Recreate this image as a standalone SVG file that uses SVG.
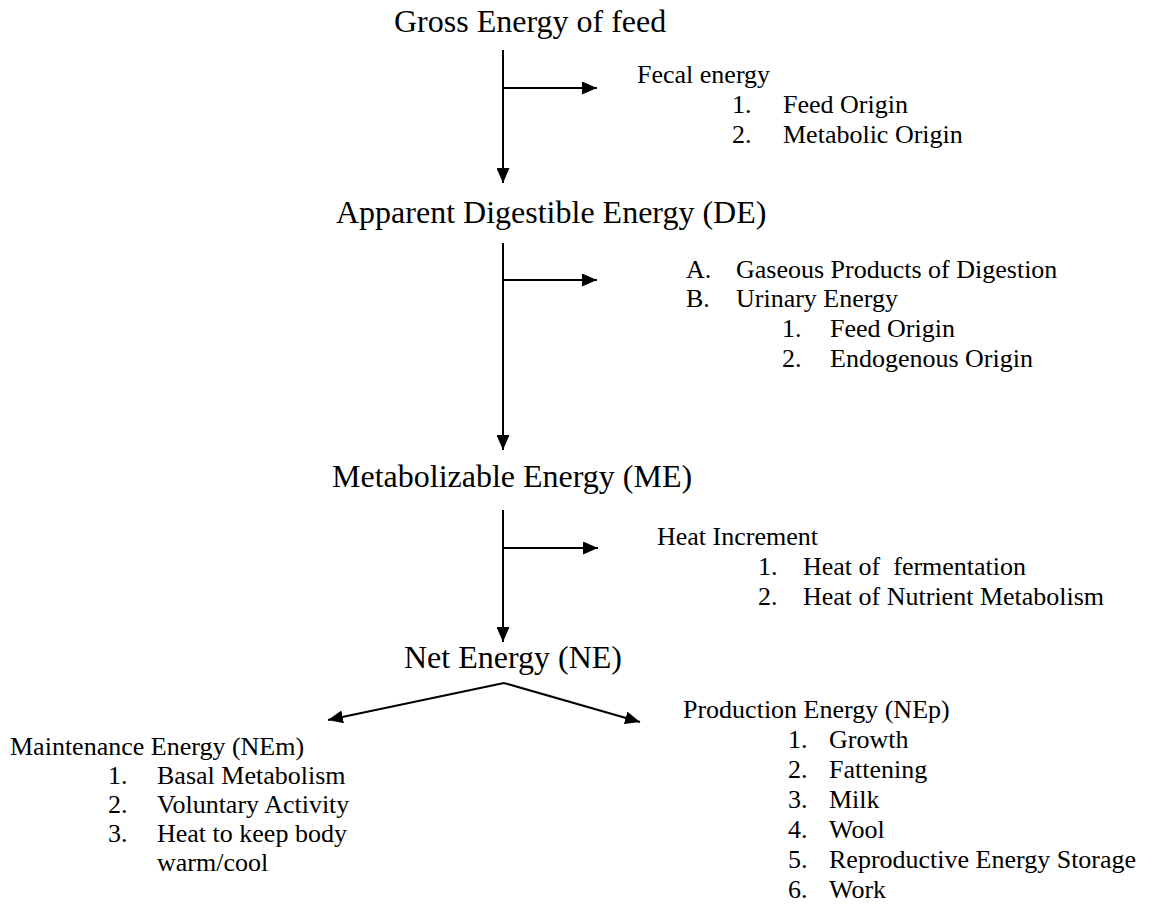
<svg xmlns="http://www.w3.org/2000/svg" width="1158" height="906" viewBox="0 0 1158 906">
<style>
text{font-family:"Liberation Serif","Times New Roman",serif;fill:#000;white-space:pre}
.t{font-size:32px}
.i{font-size:26px}
.c{stroke:#000;stroke-width:2;fill:none}
</style>
<defs>
<marker id="ah" markerUnits="userSpaceOnUse" markerWidth="16" markerHeight="13" refX="15" refY="6.5" orient="auto">
<path d="M0,0 L15,6.5 L0,13 z" fill="#000"/>
</marker>
</defs>
<rect width="1158" height="906" fill="#fff"/>
<g id="connectors">
<line class="c" x1="503" y1="50" x2="503" y2="183" marker-end="url(#ah)"/>
<line class="c" x1="503" y1="88" x2="597" y2="88" marker-end="url(#ah)"/>
<line class="c" x1="503" y1="243" x2="503" y2="450" marker-end="url(#ah)"/>
<line class="c" x1="503" y1="280" x2="597" y2="280" marker-end="url(#ah)"/>
<line class="c" x1="503" y1="510" x2="503" y2="642" marker-end="url(#ah)"/>
<line class="c" x1="503" y1="548" x2="598" y2="548" marker-end="url(#ah)"/>
<line class="c" x1="504" y1="683" x2="328" y2="720" marker-end="url(#ah)"/>
<line class="c" x1="504" y1="683" x2="640" y2="722" marker-end="url(#ah)"/>
</g>
<g id="gross"><text class="t" x="394" y="32">Gross Energy of feed</text></g>
<g id="fecal">
<text class="i" x="637" y="83">Fecal energy</text>
<text class="i" x="732" y="113">1.</text><text class="i" x="783" y="113">Feed Origin</text>
<text class="i" x="732" y="143">2.</text><text class="i" x="783" y="143">Metabolic Origin</text>
</g>
<g id="de"><text class="t" x="336" y="223">Apparent Digestible Energy (DE)</text></g>
<g id="gas-urine">
<text class="i" x="686" y="278">A.</text><text class="i" x="736" y="278">Gaseous Products of Digestion</text>
<text class="i" x="686" y="307">B.</text><text class="i" x="736" y="307">Urinary Energy</text>
<text class="i" x="782" y="337">1.</text><text class="i" x="830" y="337">Feed Origin</text>
<text class="i" x="782" y="367">2.</text><text class="i" x="830" y="367">Endogenous Origin</text>
</g>
<g id="me"><text class="t" x="332" y="487">Metabolizable Energy (ME)</text></g>
<g id="heat">
<text class="i" x="657" y="545">Heat Increment</text>
<text class="i" x="758" y="575">1.</text><text class="i" x="803" y="575">Heat of  fermentation</text>
<text class="i" x="758" y="605">2.</text><text class="i" x="803" y="605">Heat of Nutrient Metabolism</text>
</g>
<g id="ne"><text class="t" x="404" y="668">Net Energy (NE)</text></g>
<g id="maintenance">
<text class="i" x="10" y="755">Maintenance Energy (NEm)</text>
<text class="i" x="108" y="784">1.</text><text class="i" x="157" y="784">Basal Metabolism</text>
<text class="i" x="108" y="813">2.</text><text class="i" x="157" y="813">Voluntary Activity</text>
<text class="i" x="108" y="842">3.</text><text class="i" x="157" y="842">Heat to keep body</text>
<text class="i" x="157" y="871">warm/cool</text>
</g>
<g id="production">
<text class="i" x="683" y="718">Production Energy (NEp)</text>
<text class="i" x="788" y="748">1.</text><text class="i" x="829" y="748">Growth</text>
<text class="i" x="788" y="778">2.</text><text class="i" x="829" y="778">Fattening</text>
<text class="i" x="788" y="808">3.</text><text class="i" x="829" y="808">Milk</text>
<text class="i" x="788" y="838">4.</text><text class="i" x="829" y="838">Wool</text>
<text class="i" x="788" y="868">5.</text><text class="i" x="829" y="868">Reproductive Energy Storage</text>
<text class="i" x="788" y="898">6.</text><text class="i" x="829" y="898">Work</text>
</g>
</svg>
